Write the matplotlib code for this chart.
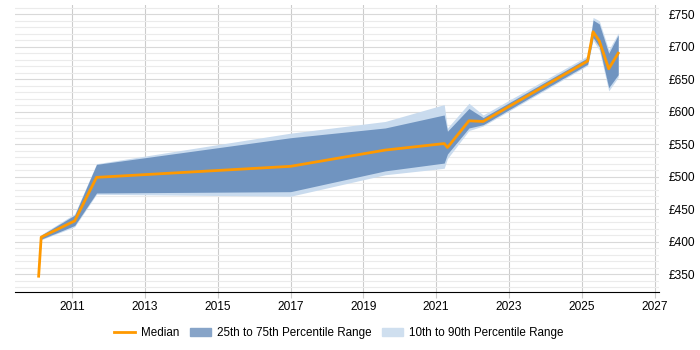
import matplotlib.pyplot as plt
from matplotlib.patches import Patch
from matplotlib.lines import Line2D
from matplotlib.ticker import MultipleLocator, FuncFormatter

plt.rcParams['font.family'] = ['Liberation Sans', 'DejaVu Sans']

# values (weekly rate, GBP)
years = [2010.08, 2010.15, 2011.07, 2011.67, 2017.0, 2019.6, 2021.22, 2021.31,
         2021.9, 2022.29, 2025.16, 2025.31, 2025.48, 2025.74, 2026.0]
median = [347, 407, 432, 499, 516, 541, 551, 545, 586, 585, 678, 723, 709, 666, 690]
p25 = [347, 404, 425, 475, 477, 509, 521, 535, 575, 580, 673, 714, 700, 637, 657]
p75 = [347, 410, 441, 519, 560, 575, 595, 570, 605, 591, 683, 741, 735, 690, 718]
p10 = [347, 403, 423, 473, 470, 503, 513, 528, 571, 578, 671, 710, 695, 632, 653]
p90 = [347, 411, 443, 520, 567, 585, 611, 575, 613, 595, 686, 745, 740, 695, 721]

fig = plt.figure(figsize=(7, 3.5), dpi=100)
ax = fig.add_axes([0.0214, 0.165, 0.92, 0.821])

ax.fill_between(years, p10, p90, color='#c9dbee', linewidth=0, zorder=2)
ax.fill_between(years, p25, p75, color='#7094c0', linewidth=0, zorder=3)
ax.plot(years, median, color='#ff9900', linewidth=2, zorder=4)

ax.set_xlim(2009.43, 2027.12)
ax.set_ylim(322.3, 764.3)

ax.xaxis.set_major_locator(MultipleLocator(2, offset=1))
ax.yaxis.set_major_locator(MultipleLocator(50))
ax.yaxis.set_minor_locator(MultipleLocator(10))
ax.yaxis.set_major_formatter(FuncFormatter(lambda v, p: f'£{v:.0f}'))
ax.yaxis.tick_right()

ax.grid(axis='x', which='major', color='#cccccc', linewidth=0.8, zorder=0)
ax.grid(axis='y', which='major', color='#d9d9d9', linewidth=0.8, zorder=0)
ax.grid(axis='y', which='minor', color='#ebebeb', linewidth=0.8, zorder=0)
ax.set_axisbelow(True)

for s in ['left', 'right', 'top']:
    ax.spines[s].set_visible(False)
ax.spines['bottom'].set_color('black')
ax.tick_params(axis='x', length=4, color='#cccccc', labelsize=8.6, pad=2)
ax.tick_params(axis='y', which='both', length=0, labelsize=8.6, pad=7)

handles = [Line2D([0], [0], color='#ff9900', linewidth=2),
           Patch(color='#87a4c8'),
           Patch(color='#cfdfef')]
labels = ['Median', '25th to 75th Percentile Range', '10th to 90th Percentile Range']
fig.legend(handles, labels, loc='center', bbox_to_anchor=(0.484, 0.048),
           ncol=3, frameon=False, fontsize=8.4, handlelength=1.8, columnspacing=0.9,
           handletextpad=0.5)

fig.savefig('out.png', dpi=100)
